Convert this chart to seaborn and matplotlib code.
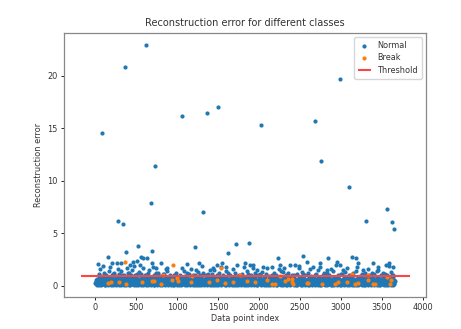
import numpy as np
import pandas as pd
import matplotlib
matplotlib.use("Agg")
import matplotlib.pyplot as plt
import seaborn as sns

# ---------------- data ----------------
N_POINTS = 3660
threshold = 0.88

# dense low band of "Normal" errors, one digit per sample (tenths)
band_tenths = (
    "2130421503" "1402351260" "0312540213" "4021350416" "1203142507"
    "3104215302" "2410362140" "0523141205" "3120460231" "1402153024"
    "2301742103" "1520341260" "0241305132" "4102350214" "2031461302"
    "1250314023" "3021540126" "0413205314" "2140632051" "1302415203"
    "4120530214" "0231460132" "2504131206" "1320451023" "3012640215"
    "0421350132" "2130425016" "1403215302" "3210461025" "0132540213"
    "2401315062" "1023460231" "3142051320" "0213564102" "1320415023"
    "4031250316" "2103462051" "0312541302" "1240315206" "3021450132"
    "2413062150" "1032541203" "0421365102" "2130450213" "3102416025"
    "1420351302" "0231462105" "2301541320" "1043250216" "3210465102"
    "0132450213" "2401356021" "1320415032" "4012360215" "2130542106"
    "0321450213" "1403265021" "3120451302" "0241356102" "2103450213"
    "1320465021"
)
band2_tenths = (
    "3526147352" "4638251473" "2547361825" "5273846153" "3645271836"
    "4152837462" "2738461527" "5364172843" "3827451636" "4615283745"
    "2546371852" "5372846153" "3648271534" "4257381647" "2836451728"
    "5163748253" "3745261834" "4628371552" "2537481643" "5264371835"
    "3846152738" "4372581643" "2653471825" "5147382634" "3728461537"
    "4635271848" "2547381653" "5362471835" "3843261527" "4257381643"
    "2638451726" "5174382653" "3746281534" "4528371652" "2637481543"
    "5246371835" "3857162748" "4362581734" "2745371826" "5138472635"
    "3627481543" "4536271857" "2748361524" "5263481735" "3842571634"
    "4157382645" "2638471526" "5374281653" "3645281734" "4728361552"
    "2536471843" "5147382635" "3758261544" "4632581727" "2846371535"
    "5274381643" "3638471526" "4527381645" "2645371838" "5143872635"
    "3627481544"
)

# Normal points just above the band
mid_idx = [40, 70, 110, 130, 165, 200, 230, 250, 290, 310, 345, 395, 430, 450,
           480, 530, 560, 600, 640, 660, 710, 760, 790, 840, 880, 910, 990, 1030,
           1080, 1100, 1140, 1190, 1250, 1280, 1320, 1350, 1420, 1450, 1510, 1560,
           1600, 1650, 1700, 1740, 1790, 1850, 1900, 1950, 1990, 2030, 2080, 2120,
           2180, 2210, 2270, 2330, 2360, 2400, 2460, 2520, 2560, 2600, 2640, 2700,
           2720, 2780, 2800, 2860, 2900, 2960, 3000, 3050, 3100, 3150, 3180, 3230,
           3260, 3300, 3350, 3410, 3440, 3490, 3520, 3570, 3610, 3640,
           55, 120, 180, 215, 270, 330, 380, 410, 470, 505, 585, 620, 700, 735,
           820, 860, 955, 1060, 1120, 1165, 1215, 1300, 1380, 1435, 1490, 1530,
           1620, 1680, 1760, 1820, 1870, 1925, 2010, 2100, 2160, 2240, 2300, 2430,
           2490, 2540, 2620, 2680, 2750, 2830, 2880, 2940, 3020, 3080, 3130, 3200,
           3280, 3330, 3380, 3460, 3540, 3590, 3625]
mid_err = [1.10, 0.95, 1.20, 1.00, 1.35, 1.05, 1.25, 0.95, 1.15, 1.40, 1.00, 1.20,
           1.05, 1.45, 0.98, 1.30, 1.10, 1.00, 1.25, 1.45, 1.05, 1.20, 0.95, 1.10,
           1.35, 1.00, 1.20, 1.05, 1.40, 0.95, 1.15, 1.00, 1.30, 1.05, 1.20, 0.97,
           1.10, 1.45, 1.20, 1.00, 1.35, 1.05, 1.25, 0.96, 1.15, 1.40, 1.05, 1.20,
           0.98, 1.30, 1.10, 0.95, 1.20, 1.00, 1.40, 1.05, 1.25, 0.97, 1.15, 1.30,
           1.00, 1.20, 0.95, 1.10, 1.45, 1.00, 1.25, 1.05, 1.35, 0.98, 1.15, 1.30,
           1.00, 1.20, 1.40, 0.96, 1.10, 1.25, 1.00, 1.15, 1.35, 0.98, 1.20, 1.05,
           1.30, 1.00,
           1.60, 1.05, 1.75, 1.15, 1.55, 1.00, 1.70, 1.20, 1.90, 1.10, 1.65, 1.00,
           1.80, 1.25, 1.10, 1.55, 1.05, 1.70, 1.20, 1.60, 1.00, 1.85, 1.15, 1.65,
           1.05, 1.75, 1.20, 1.60, 1.00, 1.80, 1.15, 1.95, 1.10, 1.65, 1.05, 1.55,
           1.70, 1.00, 1.85, 1.15, 1.60, 1.05, 1.75, 1.20, 1.55, 1.95, 1.10, 1.65,
           1.05, 1.80, 1.00, 1.60, 1.20, 1.75, 1.10, 1.90, 1.05]

# scattered Normal points between ~1.5 and ~3
high_idx = [33, 94, 147, 196, 257, 318, 371, 420, 461, 510, 542, 575, 624, 685,
            746, 807, 869, 1113, 1235, 1264, 1398, 1480, 1541, 1590, 1725, 1827,
            1888, 1929, 1970, 2051, 2153, 2230, 2255, 2296, 2377, 2438, 2491, 2536,
            2581, 2662, 2744, 2826, 2846, 2948, 2989, 3030, 3132, 3185, 3214, 3275,
            3389, 3458, 3547, 3592, 3641, 559]
high_err = [2.04, 1.88, 2.69, 2.13, 2.13, 2.13, 3.20, 1.97, 2.29, 2.39, 1.97, 2.67,
            2.61, 2.13, 1.66, 2.13, 1.66, 2.07, 1.50, 2.13, 1.50, 1.97, 2.13, 1.82,
            1.97, 2.13, 1.97, 1.66, 1.50, 1.82, 1.82, 2.59, 1.97, 1.34, 1.97, 1.97,
            1.66, 2.81, 2.29, 1.82, 2.13, 1.50, 2.59, 2.29, 1.97, 1.50, 2.71, 2.61,
            2.13, 1.50, 2.13, 1.50, 1.97, 2.13, 1.82, 2.69]

# large outliers (Normal)
out_idx = [77, 367, 612, 273, 334, 673, 722, 693, 514, 1056, 1358, 1496, 1309,
           1219, 1717, 1880, 1619, 2022, 2687, 2756, 2985, 3095, 3311, 3560, 3629,
           3649]
out_err = [14.59, 20.82, 22.91, 6.20, 5.85, 7.85, 11.36, 3.29, 3.77, 16.14, 16.46,
           17.06, 7.06, 3.67, 3.99, 4.05, 3.07, 15.35, 15.66, 11.90, 19.68, 9.37,
           6.20, 7.28, 6.08, 5.44]

# "Break" class points
break_idx = [155, 188, 285, 371, 571, 697, 714, 803, 828, 938, 1011, 1174, 1390,
             1480, 1582, 1684, 1766, 1847, 1949, 2092, 2153, 2194, 2316, 2357, 2398,
             2418, 2581, 2601, 2765, 2928, 2968, 3070, 3172, 3213, 3335, 3397, 3417,
             3600, 3608, 359, 942, 1529, 1180, 3140, 3330, 1000, 2260, 2400, 3560]
break_err = [0.25, 0.30, 0.35, 0.20, 0.30, 0.40, 0.45, 0.20, 1.00, 0.55, 0.40, 0.35,
             0.35, 0.50, 0.25, 0.30, 1.00, 0.45, 0.30, 0.55, 0.15, 0.15, 0.45, 0.60,
             0.30, 0.20, 0.25, 0.25, 0.20, 0.15, 0.35, 0.30, 0.20, 0.25, 0.55, 0.20,
             0.20, 0.20, 0.55, 2.28, 1.96, 1.65, 0.95, 1.10, 1.00, 0.70, 0.90, 0.60,
             0.80]

# ---------------- assemble ----------------
band_vals = np.array([int(c) for c in band_tenths]) / 10.0 + 0.05
band_idx = np.round(np.arange(len(band_vals)) * (N_POINTS / len(band_vals)))
band2_vals = np.array([int(c) for c in band2_tenths]) / 10.0 + 0.05
band2_idx = np.round(np.arange(len(band2_vals)) * (N_POINTS / len(band2_vals))) + 3

normal = pd.DataFrame({
    "index": np.concatenate([band_idx, band2_idx, mid_idx, high_idx, out_idx]),
    "error": np.concatenate([band_vals, band2_vals, mid_err, high_err, out_err]),
})
brk = pd.DataFrame({"index": break_idx, "error": break_err})

# ---------------- plot ----------------
plt.rcParams["font.family"] = ["DejaVu Sans"]
fig, ax = plt.subplots(figsize=(4.61, 3.29), dpi=100)
fig.subplots_adjust(left=0.139, right=0.924, top=0.899, bottom=0.097)

sns.scatterplot(data=normal, x="index", y="error", ax=ax, color="#1f77b4",
                s=9, linewidth=0, label="Normal")
sns.scatterplot(data=brk, x="index", y="error", ax=ax, color="#ff7f0e",
                s=9, linewidth=0, label="Break")
xl = ax.get_xlim()
ax.hlines(threshold, xl[0], xl[1], colors="#ff4444", linewidth=1.5, zorder=100,
          label="Threshold")

ax.set_title("Reconstruction error for different classes", fontsize=7.0,
             color="#333333", pad=5)
ax.set_xlabel("Data point index", fontsize=5.9, color="#333333", labelpad=1.5)
ax.set_ylabel("Reconstruction error", fontsize=5.9, color="#333333", labelpad=3)
ax.tick_params(labelsize=5.9, labelcolor="#333333", length=2.5, width=0.6, pad=2)
for sp in ax.spines.values():
    sp.set_color("#888888")
    sp.set_linewidth(0.9)
ax.set_xticks([0, 500, 1000, 1500, 2000, 2500, 3000, 3500, 4000])
ax.set_yticks([0, 5, 10, 15, 20])
leg = ax.legend(loc="upper right", fontsize=5.9, markerscale=1.0,
                handlelength=1.6, borderpad=0.45, labelspacing=0.42)
for t in leg.get_texts():
    t.set_color("#333333")

fig.savefig("out.png", dpi=100)
